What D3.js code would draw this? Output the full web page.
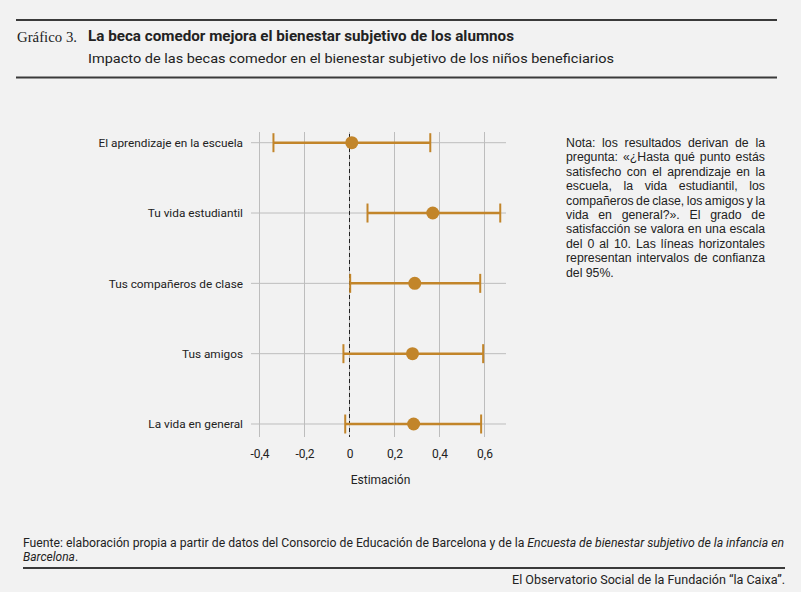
<!DOCTYPE html>
<html>
<head>
<meta charset="utf-8">
<script src="https://cdn.jsdelivr.net/npm/d3@7"></script>
<style>
  body { margin: 0; background: #f2f2f2; }
  svg { display: block; }
  text { font-family: Roboto, "Noto Sans", sans-serif; fill: #222; }
</style>
</head>
<body>
<div id="chart"></div>
<script>
const width = 801
const height = 592

// datos
const categories = ["El aprendizaje en la escuela", "Tu vida estudiantil", "Tus compañeros de clase", "Tus amigos", "La vida en general"]
const estimates = [0.01, 0.37, 0.29, 0.28, 0.285]
const lower = [-0.338, 0.08, 0.003, -0.027, -0.019]
const upper = [0.359, 0.67, 0.581, 0.594, 0.585]
const xTicks = [-0.4, -0.2, 0, 0.2, 0.4, 0.6]

const noteLines = [
  "Nota: los resultados derivan de la",
  "pregunta: «¿Hasta qué punto estás",
  "satisfecho con el aprendizaje en la",
  "escuela, la vida estudiantil, los",
  "compañeros de clase, los amigos y la",
  "vida en general?». El grado de",
  "satisfacción se valora en una escala",
  "del 0 al 10. Las líneas horizontales",
  "representan intervalos de confianza",
  "del 95%."
]

const data = categories.map((c, i) => ({cat: c, est: estimates[i], lo: lower[i], hi: upper[i]}))

const color = "#c2852a"

const svg = d3.select("#chart").append("svg").attr("width", width).attr("height", height)
svg.append("rect").attr("width", width).attr("height", height).attr("fill", "#f2f2f2")

// cabecera
svg.append("line").attr("x1", 16).attr("x2", 777).attr("y1", 20).attr("y2", 20)
  .attr("stroke", "#3a3a3a").attr("stroke-width", 2)
svg.append("line").attr("x1", 16).attr("x2", 777).attr("y1", 77.5).attr("y2", 77.5)
  .attr("stroke", "#3a3a3a").attr("stroke-width", 2)

svg.append("text").attr("x", 17).attr("y", 42)
  .style("font-family", "'Liberation Serif', 'DejaVu Serif', serif")
  .style("font-size", "15px").attr("fill", "#333")
  .attr("textLength", 60).attr("lengthAdjust", "spacingAndGlyphs")
  .text("Gráfico 3.")

svg.append("text").attr("x", 88).attr("y", 41)
  .style("font-size", "14px").style("font-weight", "bold")
  .attr("textLength", 426).attr("lengthAdjust", "spacingAndGlyphs")
  .text("La beca comedor mejora el bienestar subjetivo de los alumnos")

svg.append("text").attr("x", 88).attr("y", 62.5)
  .style("font-size", "13.5px").attr("fill", "#333")
  .attr("textLength", 526).attr("lengthAdjust", "spacingAndGlyphs")
  .text("Impacto de las becas comedor en el bienestar subjetivo de los niños beneficiarios")

// escalas
const x = d3.scaleLinear().domain([-0.4, 0.6]).range([259.5, 484.5])
const y = d3.scalePoint().domain(categories).range([142.7, 424])
const plotLeft = 251, plotRight = 506, plotTop = 132, plotBottom = 437

// rejilla
const grid = svg.append("g")
grid.selectAll(".vgrid").data(xTicks).join("line")
  .attr("class", "vgrid")
  .attr("x1", d => x(d)).attr("x2", d => x(d))
  .attr("y1", plotTop).attr("y2", plotBottom)
  .attr("stroke", "#bdbdbd").attr("stroke-width", 1)
grid.selectAll(".hgrid").data(categories).join("line")
  .attr("class", "hgrid")
  .attr("x1", plotLeft).attr("x2", plotRight)
  .attr("y1", d => y(d)).attr("y2", d => y(d))
  .attr("stroke", "#bdbdbd").attr("stroke-width", 1)

// línea del cero
svg.append("line").attr("x1", x(0)).attr("x2", x(0))
  .attr("y1", plotTop + 2).attr("y2", plotBottom)
  .attr("stroke", "#222").attr("stroke-width", 1).attr("stroke-dasharray", "4,3")

// ejes
const xAxis = d3.axisBottom(x).tickValues(xTicks).tickSize(0).tickPadding(0)
  .tickFormat(d => d === 0 ? "0" : d3.format(".1f")(d).replace(".", ",").replace("\u2212", "-"))
const axisGroup = svg.append("g").attr("transform", `translate(0, ${plotBottom + 12})`).call(xAxis)
axisGroup.select(".domain").remove()
axisGroup.selectAll("text").style("font-size", "12px").attr("fill", "#222").style("font-family", "Roboto, sans-serif")

const yAxis = d3.axisLeft(y).tickSize(0).tickPadding(8)
const yGroup = svg.append("g").attr("transform", `translate(${plotLeft}, 0)`).call(yAxis)
yGroup.select(".domain").remove()
yGroup.selectAll("text").style("font-size", "11.8px").attr("fill", "#222").style("font-family", "Roboto, sans-serif")

svg.append("text").attr("x", 380.5).attr("y", 484).attr("text-anchor", "middle")
  .style("font-size", "12px").text("Estimación")

// intervalos
const rows = svg.append("g").selectAll("g").data(data).join("g")
  .attr("transform", d => `translate(0, ${y(d.cat)})`)
rows.append("line").attr("x1", d => x(d.lo)).attr("x2", d => x(d.hi))
  .attr("stroke", color).attr("stroke-width", 2.5)
rows.append("line").attr("x1", d => x(d.lo)).attr("x2", d => x(d.lo))
  .attr("y1", -9.5).attr("y2", 9.5).attr("stroke", color).attr("stroke-width", 2)
rows.append("line").attr("x1", d => x(d.hi)).attr("x2", d => x(d.hi))
  .attr("y1", -9.5).attr("y2", 9.5).attr("stroke", color).attr("stroke-width", 2)
rows.append("circle").attr("cx", d => x(d.est)).attr("r", 6.5).attr("fill", color)

// nota justificada
const noteX = 566, noteW = 199, noteY = 147, noteLH = 14.4
const note = svg.append("g")
noteLines.forEach((line, i) => {
  const words = line.split(" ")
  const ly = noteY + i * noteLH
  const last = i === noteLines.length - 1
  const ws = words.map(w => note.append("text").attr("y", ly).style("font-size", "12.3px")
    .style("font-family", "'Liberation Sans', Arial, sans-serif").attr("fill", "#222").text(w))
  const lens = ws.map(t => t.node().getComputedTextLength())
  const total = d3.sum(lens)
  const gap = last || words.length < 2 ? 3.3 : (noteW - total) / (words.length - 1)
  let cx = noteX
  ws.forEach((t, j) => { t.attr("x", cx); cx += lens[j] + gap })
})

// fuente
const src = svg.append("text").attr("x", 23).attr("y", 546.5).style("font-size", "12px")
  .attr("textLength", 761).attr("lengthAdjust", "spacingAndGlyphs")
src.append("tspan").text("Fuente: elaboración propia a partir de datos del Consorcio de Educación de Barcelona y de la ")
src.append("tspan").style("font-style", "italic").text("Encuesta de bienestar subjetivo de la infancia en")
const src2 = svg.append("text").attr("x", 23).attr("y", 560.5).style("font-size", "12px")
src2.append("tspan").style("font-style", "italic").text("Barcelona")
src2.append("tspan").text(".")

svg.append("line").attr("x1", 23).attr("x2", 785).attr("y1", 568).attr("y2", 568)
  .attr("stroke", "#3a3a3a").attr("stroke-width", 2)

svg.append("text").attr("x", 785).attr("y", 583.5).attr("text-anchor", "end")
  .style("font-size", "12px").attr("textLength", 273).attr("lengthAdjust", "spacingAndGlyphs")
  .text("El Observatorio Social de la Fundación “la Caixa”.")
</script>
</body>
</html>
